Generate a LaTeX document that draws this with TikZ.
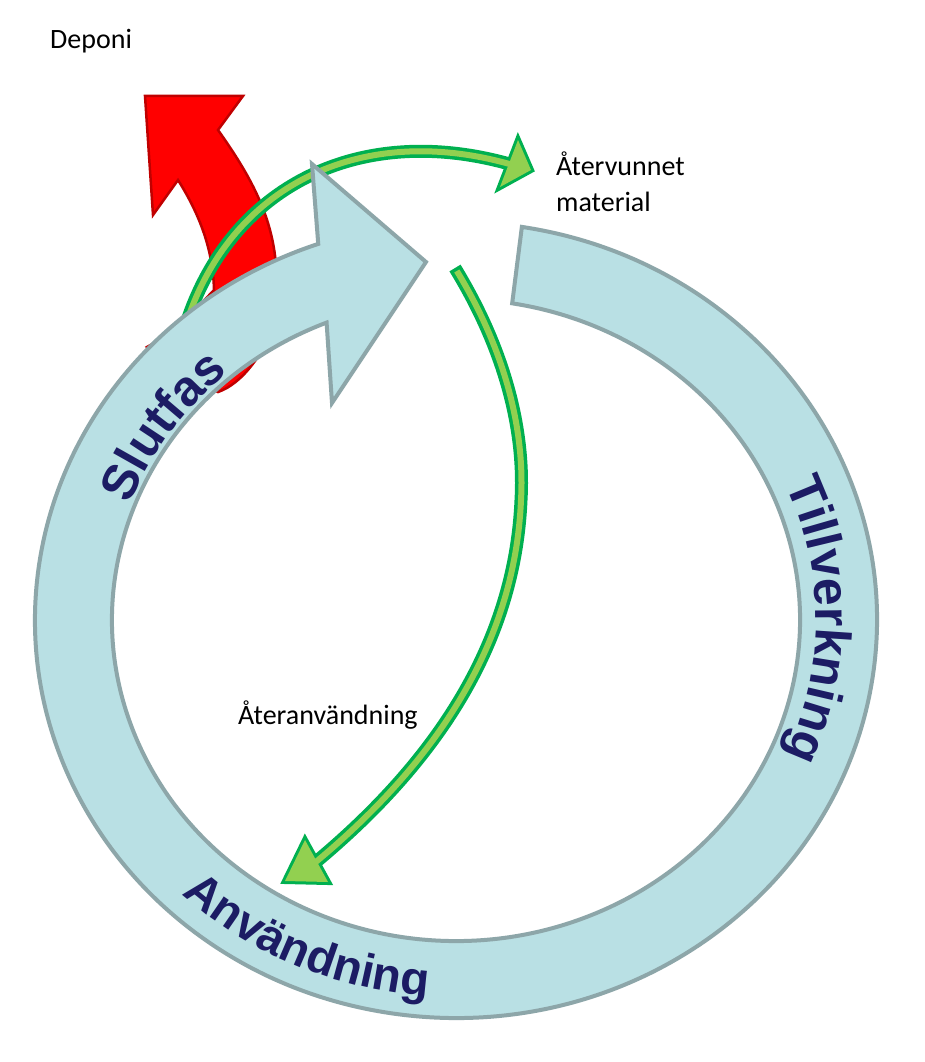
\documentclass[tikz,border=0pt]{standalone}
\usepackage{fontspec}
\setmainfont{Carlito}
\newfontfamily\ringfont{Liberation Sans}
\usetikzlibrary{calc,decorations.text}
\definecolor{ringfill}{RGB}{185,224,228}
\definecolor{ringline}{RGB}{141,166,169}
\definecolor{gdark}{RGB}{0,176,80}
\definecolor{glight}{RGB}{146,208,80}
\definecolor{rfill}{RGB}{255,0,0}
\definecolor{rline}{RGB}{192,0,0}
\definecolor{navytext}{RGB}{28,28,100}
\newcommand\ringtext{\ringfont\bfseries\fontsize{50}{50}\selectfont\color{navytext}}
\newcommand\ringtextb{\ringfont\bfseries\fontsize{47}{47}\selectfont\color{navytext}}
\tikzset{
  lbl/.style={font=\fontsize{28}{35}\selectfont, inner sep=0pt, text=black},
  ringshape/.style={fill=ringfill, draw=ringline, line width=4pt, line join=miter},
  redshape/.style={fill=rfill, draw=rline, line width=2.5pt, line join=miter},
  gshaftout/.style={draw=gdark, line width=13pt},
  gshaftin/.style={draw=glight, line width=6pt},
  ghead/.style={fill=glight, draw=gdark, line width=6pt, line join=miter},
  gheadfill/.style={fill=glight},
}
\begin{document}
\begin{tikzpicture}[x=1pt,y=-1pt]
\useasboundingbox (0,0) rectangle (925,1062);
\fill[white] (0,0) rectangle (925,1062);
\coordinate (C) at (456,620);

% red arrow (Deponi)
\coordinate (rtip) at (145,96);
\coordinate (rbarbR) at (243,96);
\coordinate (rnotchR) at (218,130);
\coordinate (rnotchL) at (178,180);
\coordinate (rbarbL) at (153,215);
\draw[redshape] (rtip) -- (rbarbR) -- (rnotchR)
  .. controls (250,175) and (272,215) .. (276,265)
  .. controls (280,310) and (268,345) .. (252,365)
  .. controls (242,378) and (230,388) .. (218,392)
  .. controls (195,382) and (165,365) .. (147,347)
  .. controls (170,335) and (200,305) .. (214,290)
  .. controls (213,250) and (200,215) .. (rnotchL)
  -- (rbarbL) -- cycle;

% green arrow 1 (Atervunnet material)
\coordinate (g1s) at (188,318);
\coordinate (g1e) at (513,165);
\coordinate (g1a) at (518,140);
\coordinate (g1tip) at (531,170);
\coordinate (g1b) at (500,187);
\draw[ghead] (g1a) -- (g1tip) -- (g1b) -- cycle;
\draw[gshaftout] (g1s) .. controls (235,182) and (365,122) .. (g1e);
\fill[gheadfill] (g1a) -- (g1tip) -- (g1b) -- cycle;
\draw[gshaftin] (g1s) .. controls (235,182) and (365,122) .. (g1e);

% ring arrow
\draw[ringshape] ($(C)+(-80.6:344 and 321)$) -- ($(C)+(-81:421 and 398)$)
  arc[start angle=-81, end angle=250.9, x radius=421, y radius=398]
  -- (312,164) -- (426,262) -- (332,403)
  -- ($(C)+(247.9:344 and 321)$)
  arc[start angle=247.9, end angle=-80.6, x radius=344, y radius=321] -- cycle;

% curved ring texts
\path[decorate, decoration={text along path, text={|\ringtext|Tillverkning}, text align=center}]
  ($(C)+(-30:360 and 337)$) arc[start angle=-30, end angle=30, x radius=360, y radius=337];
\path[decorate, decoration={text along path, text={|\ringtext|Slutfas}, text align=center}]
  ($(C)+(195:349 and 326)$) arc[start angle=195, end angle=235, x radius=349, y radius=326];
\path[decorate, decoration={text along path, text={|\ringtextb|Användning}, text align=center}]
  ($(C)+(150:400 and 377)$) arc[start angle=150, end angle=78, x radius=400, y radius=377];

% green arrow 2 (Ateranvandning)
\coordinate (g2s) at (455,268);
\coordinate (g2m) at (521,500);
\coordinate (g2e) at (311,866);
\coordinate (g2a) at (305,840);
\coordinate (g2tip) at (285,881);
\coordinate (g2b) at (328,882);
\draw[ghead] (g2a) -- (g2tip) -- (g2b) -- cycle;
\draw[gshaftout] (g2s) .. controls (505,350) and (525,430) .. (g2m)
  .. controls (515,640) and (440,760) .. (g2e);
\fill[gheadfill] (g2a) -- (g2tip) -- (g2b) -- cycle;
\draw[gshaftin, shorten <=3.5pt] (g2s) .. controls (505,350) and (525,430) .. (g2m)
  .. controls (515,640) and (440,760) .. (g2e);

% labels
\node[lbl, anchor=base west] (deponi) at (50,49) {Deponi};
\node[lbl, anchor=base west] (atervunnet) at (556,175) {Återvunnet};
\node[lbl, anchor=base west] (material) at (556,211) {material};
\node[lbl, anchor=base west] (ateranv) at (238,724) {Återanvändning};
\end{tikzpicture}
\end{document}
